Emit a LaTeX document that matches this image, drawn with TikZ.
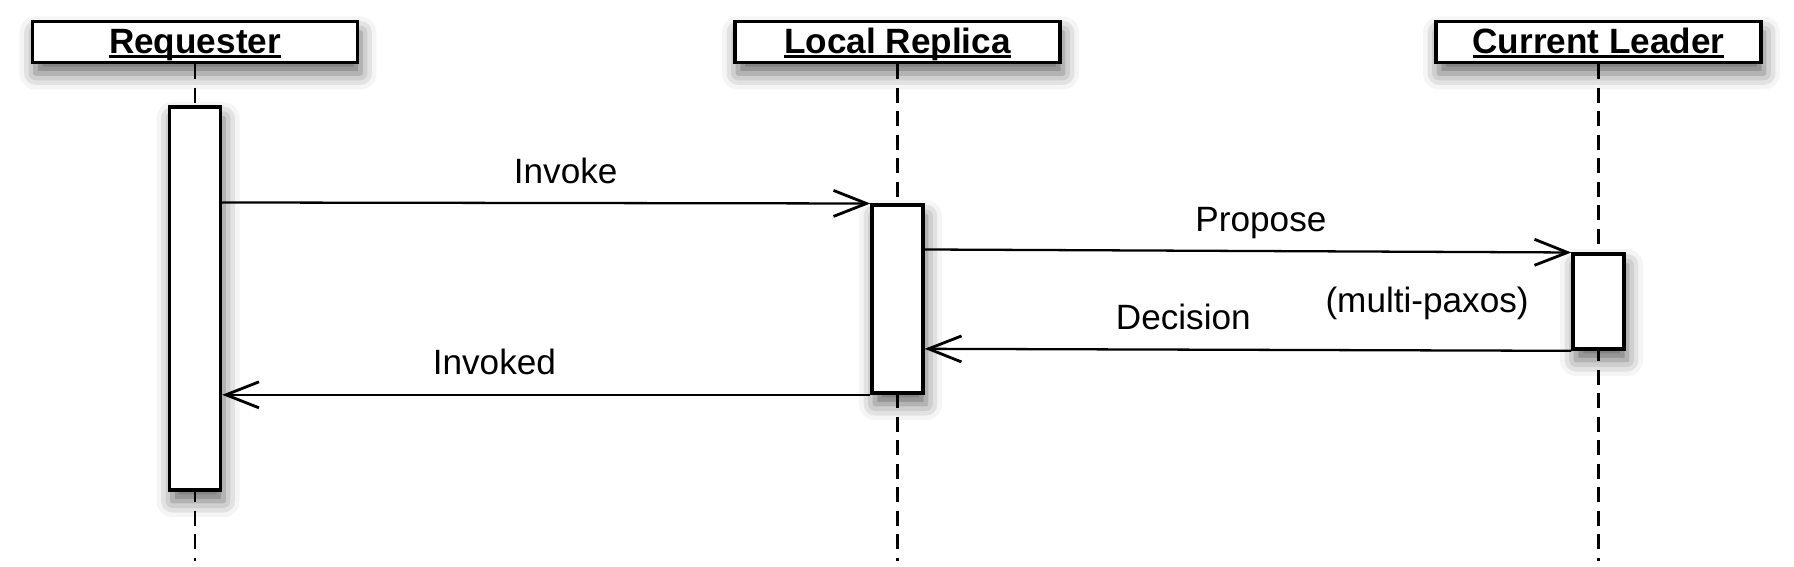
\documentclass[tikz,border=0pt]{standalone}
\usepackage{fontspec}
\setmainfont{Liberation Sans}
\usetikzlibrary{arrows.meta, calc, shadows.blur}

% underline drawn just under the baseline, through descenders
\newcommand{\ulText}[1]{\setbox0\hbox{#1}\rlap{\rule[-1.3pt]{\wd0}{0.8pt}}\box0}

\tikzset{
  boxshadow/.style={blur shadow={shadow xshift=0.3mm, shadow yshift=-1.1mm, shadow blur radius=1.6mm, shadow opacity=60}},
  header/.style={draw, line width=0.95pt, fill=white, boxshadow, minimum width=3.25cm, minimum height=0.41cm, inner sep=0pt, text height=2.5mm, text depth=0.2mm, font=\bfseries},
  activation/.style={draw, line width=0.95pt, fill=white, boxshadow, minimum width=0.51cm, inner sep=0pt},
  lifeline/.style={line width=0.8pt, dash pattern=on 1.5mm off 0.85mm},
  message/.style={line width=0.65pt, -{Straight Barb[length=3.3mm, width=2.6mm, line width=0.8pt]}},
  msglabel/.style={anchor=base, yshift=2mm, inner sep=0pt}
}

\begin{document}
\begin{tikzpicture}

	\useasboundingbox (0,0) rectangle (17.94,-5.67);

	% heads
	\node[header] (req) at (1.95,-0.42) {\ulText{Requester}};
	\node[header] (local) at (8.975,-0.42) {\ulText{Local Replica}};
	\node[header] (leader) at (15.985,-0.42) {\ulText{Current Leader}};

	% lifelines
	\coordinate (reqEnd) at ($ (req.south)+(0,-4.97) $);
	\coordinate (localEnd) at ($ (local.south)+(0,-4.97) $);
	\coordinate (leaderEnd) at ($ (leader.south)+(0,-4.97) $);
	\draw[lifeline] (req.south) -- (reqEnd);
	\draw[lifeline] (local.south) -- (localEnd);
	\draw[lifeline] (leader.south) -- (leaderEnd);

	% activations
	\node[activation, minimum height=3.83cm] (reqAct) at ($ (req.south)+(0,-2.345) $) {};
	\node[activation, minimum height=1.88cm] (localAct) at ($ (local.south)+(0,-2.35) $) {};
	\node[activation, minimum height=0.95cm] (leaderAct) at ($ (leader.south)+(0,-2.375) $) {};

	% messages
	\draw[message] ($ (reqAct.east |- localAct.north west)+(0,0.01) $) -- node[msglabel, pos=.53] {Invoke} (localAct.north west);
	\draw[message] ($ (localAct.east |- leaderAct.north west)+(0,0.03) $) -- node[msglabel, pos=.52] {Propose} (leaderAct.north west);
	\draw[message] (leaderAct.south west) -- node[msglabel, pos=.6] {Decision} ($ (localAct.east |- leaderAct.south west)+(0,0.02) $);
	\draw[message] (localAct.south west) -- node[msglabel, pos=.58] {Invoked} (reqAct.east |- localAct.south west);

	\node[anchor=base east, inner sep=0pt] (paxos) at ($ (leaderAct.north west)+(-0.42,-0.6) $) {(multi-paxos)};

\end{tikzpicture}
\end{document}
